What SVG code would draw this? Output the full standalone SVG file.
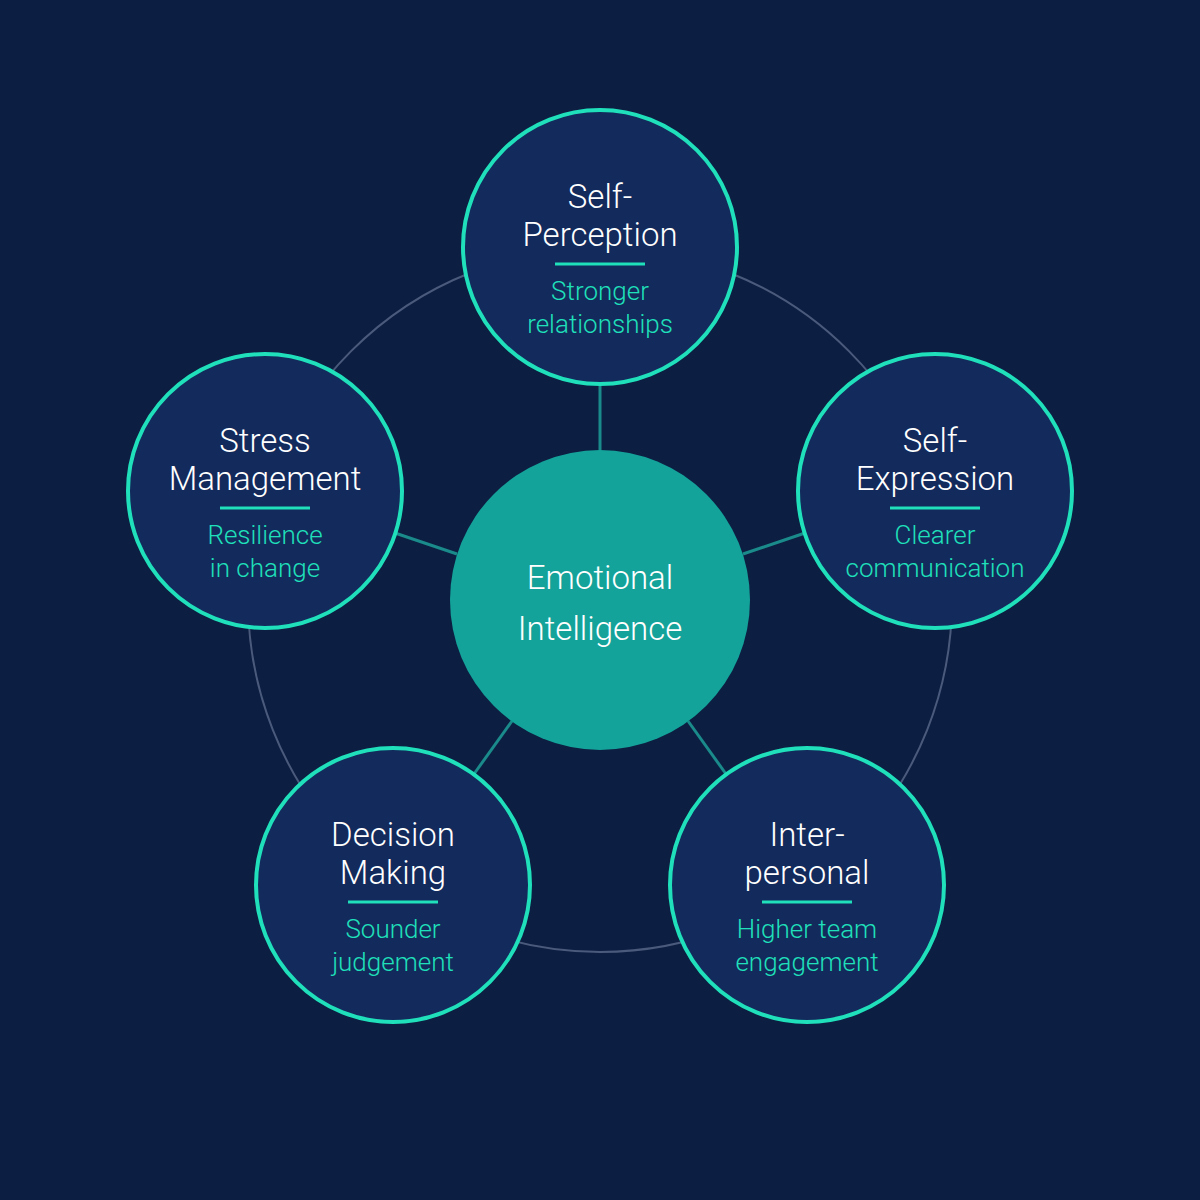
<svg xmlns="http://www.w3.org/2000/svg" width="1200" height="1200" viewBox="0 0 1200 1200">
<style>
.node{fill:#132a5c;stroke:#1fe0ba;stroke-width:4}
.t{font-family:Roboto,"Liberation Sans",sans-serif;font-weight:300;font-size:33px;fill:#fff;text-anchor:middle}
.s{font-family:Roboto,"Liberation Sans",sans-serif;font-weight:300;font-size:26px;fill:#1fe0ba;text-anchor:middle}
.d{stroke:#1fe0ba;stroke-width:3}
.ring{fill:none;stroke:#4a5a7c;stroke-width:2}
.sp{stroke:#1a8a8a;stroke-width:3}
</style>
<rect width="1200" height="1200" fill="#0c1e42"/>
<g id="connectors">
<circle class="ring" cx="600" cy="600" r="352"/>
<line class="sp" x1="600" y1="450" x2="600" y2="384"/>
<line class="sp" x1="743" y1="554" x2="805" y2="533"/>
<line class="sp" x1="688" y1="721" x2="726" y2="774"/>
<line class="sp" x1="512" y1="721" x2="474" y2="774"/>
<line class="sp" x1="457" y1="554" x2="395" y2="533"/>
</g>
<g id="center">
<circle cx="600" cy="600" r="150" fill="#14a39a"/>
<text class="t" x="600" y="589" font-size="46">Emotional</text>
<text class="t" x="600" y="640" font-size="46">Intelligence</text>
</g>
<g id="self-perception" transform="translate(600,247)">
<circle class="node" r="137"/>
<text class="t" y="-39">Self-</text><text class="t" y="-1">Perception</text>
<line class="d" x1="-45" x2="45" y1="17" y2="17"/>
<text class="s" y="53">Stronger</text><text class="s" y="86">relationships</text>
</g>
<g id="self-expression" transform="translate(935,491)">
<circle class="node" r="137"/>
<text class="t" y="-39">Self-</text><text class="t" y="-1">Expression</text>
<line class="d" x1="-45" x2="45" y1="17" y2="17"/>
<text class="s" y="53">Clearer</text><text class="s" y="86">communication</text>
</g>
<g id="interpersonal" transform="translate(807,885)">
<circle class="node" r="137"/>
<text class="t" y="-39">Inter-</text><text class="t" y="-1">personal</text>
<line class="d" x1="-45" x2="45" y1="17" y2="17"/>
<text class="s" y="53">Higher team</text><text class="s" y="86">engagement</text>
</g>
<g id="decision-making" transform="translate(393,885)">
<circle class="node" r="137"/>
<text class="t" y="-39">Decision</text><text class="t" y="-1">Making</text>
<line class="d" x1="-45" x2="45" y1="17" y2="17"/>
<text class="s" y="53">Sounder</text><text class="s" y="86">judgement</text>
</g>
<g id="stress-management" transform="translate(265,491)">
<circle class="node" r="137"/>
<text class="t" y="-39">Stress</text><text class="t" y="-1">Management</text>
<line class="d" x1="-45" x2="45" y1="17" y2="17"/>
<text class="s" y="53">Resilience</text><text class="s" y="86">in change</text>
</g>
</svg>
